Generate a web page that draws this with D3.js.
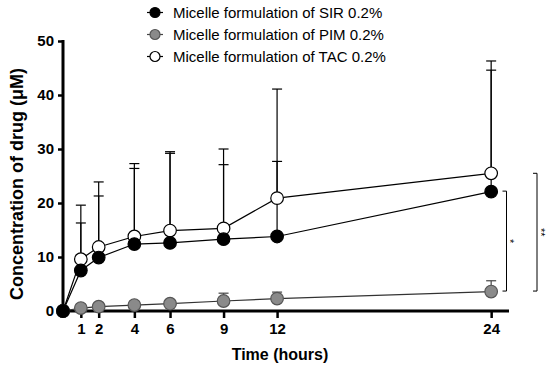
<!DOCTYPE html>
<html>
<head>
<meta charset="utf-8">
<script src="https://cdn.jsdelivr.net/npm/d3@7"></script>
<style>
  body { margin: 0; background: #fff; }
  svg { font-family: Arial, "Liberation Sans", sans-serif; }
</style>
</head>
<body>
<svg width="550" height="369"></svg>
<script>
// data
const hours = [0, 1, 2, 4, 6, 9, 12, 24];
const xTicks = [1, 2, 4, 6, 9, 12, 24];
const yTicks = [0, 10, 20, 30, 40, 50];
const seriesNames = ["Micelle formulation of SIR 0.2%", "Micelle formulation of PIM 0.2%", "Micelle formulation of TAC 0.2%"];
const sirMean = [0, 7.5, 9.9, 12.4, 12.6, 13.3, 13.8, 22.1];
const sirUpper = [0, 16.3, 21.3, 26.4, 29.2, 27.1, 27.7, 44.6];
const pimMean = [0, 0.55, 0.8, 1.1, 1.35, 1.85, 2.3, 3.6];
const pimUpper = [0, 0.9, 1.1, 1.5, 2.1, 3.3, 3.5, 5.6];
const tacMean = [0, 9.6, 11.85, 13.8, 14.9, 15.3, 20.9, 25.5];
const tacUpper = [0, 19.6, 23.9, 27.3, 29.5, 30.0, 41.1, 46.3];
// significance brackets at 24 h: [top value, bottom value, label]
const sigs = [[22.2, 3.6, "*"], [25.5, 3.6, "**"]];

const svg = d3.select("svg");
const x = d3.scaleLinear().domain([0, 25]).range([63, 509]);
const y = d3.scaleLinear().domain([0, 50]).range([311, 41]);

const series = [
  { name: seriesNames[2], mean: tacMean, upper: tacUpper, fill: "#fff", stroke: "#000" },
  { name: seriesNames[1], mean: pimMean, upper: pimUpper, fill: "#8a8a8a", stroke: "#555" },
  { name: seriesNames[0], mean: sirMean, upper: sirUpper, fill: "#000", stroke: "#000" }
];

// axes
const xAxis = svg.append("g").attr("transform", `translate(0,${y(0)})`)
  .call(d3.axisBottom(x).tickValues(xTicks).tickSize(7).tickSizeOuter(0));
xAxis.select(".domain").attr("stroke-width", 3).attr("d", `M${x(0) - 1.5},0H${x(25)}`);
xAxis.selectAll(".tick line").attr("stroke-width", 2.5);
xAxis.selectAll(".tick text").attr("font-size", 15).attr("font-weight", "bold")
  .attr("font-family", "Arial, 'Liberation Sans', sans-serif").attr("fill", "#000").attr("y", 9).attr("dy", "0.9em");

const yAxis = svg.append("g").attr("transform", `translate(${x(0)},0)`)
  .call(d3.axisLeft(y).tickValues(yTicks).tickSize(5).tickSizeOuter(0));
yAxis.select(".domain").attr("stroke-width", 3).attr("d", `M0,${y(0) + 1.5}V${y(50) - 1}`);
yAxis.selectAll(".tick line").attr("stroke-width", 2.5);
yAxis.selectAll(".tick text").attr("font-size", 15).attr("font-weight", "bold")
  .attr("font-family", "Arial, 'Liberation Sans', sans-serif").attr("fill", "#000").attr("x", -9);

svg.append("text").attr("x", 280).attr("y", 360).attr("text-anchor", "middle")
  .attr("font-size", 16).attr("font-weight", "bold").text("Time (hours)");
svg.append("text").attr("transform", "translate(23,184) rotate(-90)").attr("text-anchor", "middle")
  .attr("font-size", 18).attr("font-weight", "bold").text("Concentration of drug (\u03bcM)");

// error bars
series.forEach(s => {
  const g = svg.append("g").attr("stroke", s.stroke === "#555" ? "#444" : "#000").attr("stroke-width", 1.2);
  hours.forEach((h, i) => {
    if (s.upper[i] <= s.mean[i]) return;
    g.append("line").attr("x1", x(h)).attr("x2", x(h)).attr("y1", y(s.mean[i])).attr("y2", y(s.upper[i]));
    g.append("line").attr("x1", x(h) - 5).attr("x2", x(h) + 5).attr("y1", y(s.upper[i])).attr("y2", y(s.upper[i]));
  });
});

// lines and markers
const line = d3.line().x((d, i) => x(hours[i])).y(d => y(d));
series.forEach(s => {
  svg.append("path").datum(s.mean).attr("d", line).attr("fill", "none")
    .attr("stroke", s.stroke === "#555" ? "#333" : "#000").attr("stroke-width", 1.2);
});
series.forEach(s => {
  svg.append("g").selectAll("circle").data(s.mean).join("circle")
    .attr("cx", (d, i) => x(hours[i])).attr("cy", d => y(d)).attr("r", 6.3)
    .attr("fill", s.fill).attr("stroke", s.stroke).attr("stroke-width", 1.2);
});

// significance brackets
sigs.forEach((s, k) => {
  const bx = k === 0 ? 506.5 : 537;
  const y1 = y(s[0]), y2 = y(s[1]) - 0.5;
  svg.append("path").attr("d", `M${bx - 4},${y1}H${bx}V${y2}H${bx - 4}`)
    .attr("fill", "none").attr("stroke", "#000").attr("stroke-width", 1);
  svg.append("text").attr("transform", `translate(${bx - 0.5},${(y1 + y2) / 2}) rotate(90)`)
    .attr("text-anchor", "middle").attr("font-size", 11).text(s[2]);
});

// legend
const legend = svg.append("g");
[series[2], series[1], series[0]].forEach((s, i) => {
  const ly = 12.5 + i * 22;
  legend.append("line").attr("x1", 147).attr("x2", 163).attr("y1", ly).attr("y2", ly)
    .attr("stroke", s.stroke === "#555" ? "#444" : "#000").attr("stroke-width", 1.2);
  legend.append("circle").attr("cx", 155).attr("cy", ly).attr("r", 5)
    .attr("fill", s.fill).attr("stroke", s.stroke).attr("stroke-width", 1.2);
  legend.append("text").attr("x", 173).attr("y", ly).attr("dy", "0.36em")
    .attr("font-size", 15).text(s.name);
});
</script>
</body>
</html>
